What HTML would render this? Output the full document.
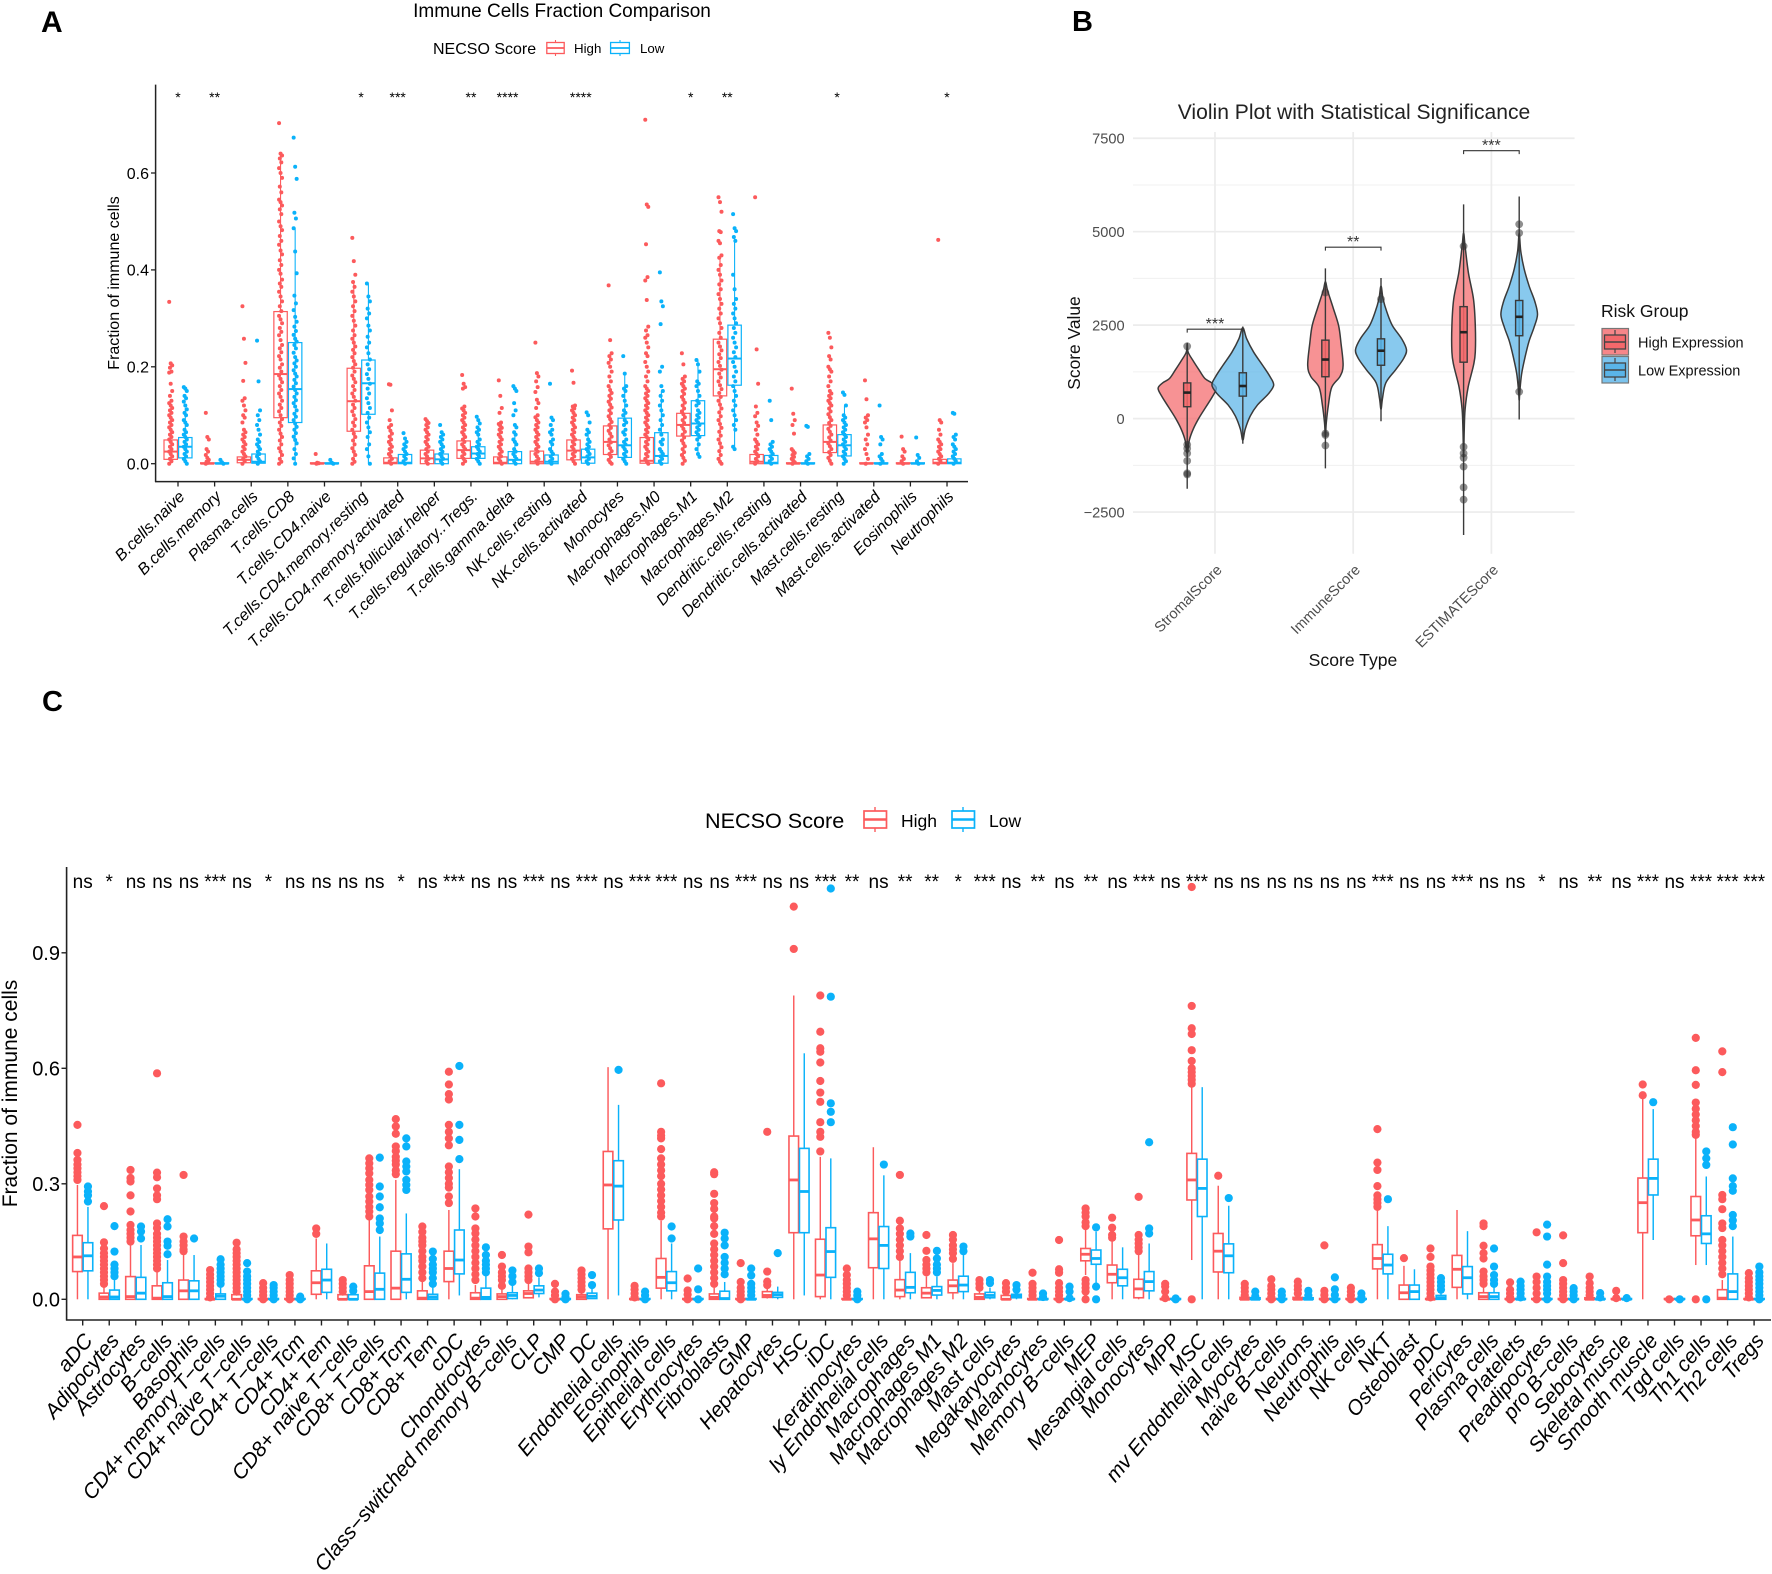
<!DOCTYPE html>
<html lang="en">
<head>
<meta charset="utf-8">
<title>Immune cell fraction comparison figure</title>
<style>
html,body{margin:0;padding:0;background:#fff}
svg{display:block}
text{font-family:"Liberation Sans",Arial,sans-serif}
</style>
</head>
<body>
<svg id="fig" xmlns="http://www.w3.org/2000/svg" width="1772" height="1574" viewBox="0 0 1772 1574">
<rect x="0" y="0" width="1772" height="1574" fill="#fff"/>

<text x="41" y="32" font-size="30" font-weight="bold">A</text>
<text x="1072" y="31" font-size="29" font-weight="bold">B</text>
<text x="42" y="711" font-size="29" font-weight="bold">C</text>

<g id="panelA">
  <text x="562" y="17" font-size="19" text-anchor="middle">Immune Cells Fraction Comparison</text>
  <text x="433" y="54" font-size="16">NECSO Score</text>
  <g>
    <line x1="555.5" y1="40" x2="555.5" y2="56" stroke="#FC5A5C" stroke-width="1.1"/>
    <rect x="546.8" y="42.5" width="17.4" height="11" fill="#fff" stroke="#FC5A5C" stroke-width="1.3"/>
    <line x1="546.8" y1="48" x2="564.2" y2="48" stroke="#FC5A5C" stroke-width="1.8"/>
    <text x="574" y="53" font-size="13.3">High</text>
  </g>
  <g>
    <line x1="620" y1="40" x2="620" y2="56" stroke="#0AB2FA" stroke-width="1.1"/>
    <rect x="610.6" y="42.5" width="18.8" height="11" fill="#fff" stroke="#0AB2FA" stroke-width="1.3"/>
    <line x1="610.6" y1="48" x2="629.4" y2="48" stroke="#0AB2FA" stroke-width="1.8"/>
    <text x="640" y="53" font-size="13.3">Low</text>
  </g>
  <text transform="translate(119,283) rotate(-90)" font-size="16" text-anchor="middle">Fraction of immune cells</text>
  <line x1="155.6" y1="84.6" x2="155.6" y2="482" stroke="#222" stroke-width="1.5"/>
  <line x1="155" y1="481.6" x2="968" y2="481.6" stroke="#222" stroke-width="1.5"/>
</g>

<g id="panelB">
  <text x="1354" y="119" font-size="21.1" fill="#222" text-anchor="middle">Violin Plot with Statistical Significance</text>
  <text transform="translate(1080,343) rotate(-90)" font-size="17.4" text-anchor="middle" fill="#111">Score Value</text>
  <text x="1353" y="666" font-size="17.6" text-anchor="middle" fill="#111">Score Type</text>
  <text x="1601" y="317" font-size="17.5" fill="#111">Risk Group</text>
  <g>
    <rect x="1602" y="328.5" width="26.5" height="26.5" fill="#F4686B" fill-opacity=".8" stroke="#777" stroke-width="1.2"/>
    <line x1="1615" y1="330" x2="1615" y2="353" stroke="#444" stroke-width="1.2"/>
    <rect x="1604.5" y="335" width="21" height="14" fill="#F4686B" stroke="#444" stroke-width="1.3"/>
    <line x1="1604.5" y1="342" x2="1625.5" y2="342" stroke="#444" stroke-width="1.5"/>
    <text x="1638" y="347.5" font-size="14.5" fill="#111">High Expression</text>
  </g>
  <g>
    <rect x="1602" y="356.5" width="26.5" height="26.5" fill="#5AB4E8" fill-opacity=".8" stroke="#777" stroke-width="1.2"/>
    <line x1="1615" y1="358" x2="1615" y2="381" stroke="#444" stroke-width="1.2"/>
    <rect x="1604.5" y="363" width="21" height="14" fill="#5AB4E8" stroke="#444" stroke-width="1.3"/>
    <line x1="1604.5" y1="370" x2="1625.5" y2="370" stroke="#444" stroke-width="1.5"/>
    <text x="1638" y="375.5" font-size="14.5" fill="#111">Low Expression</text>
  </g>
</g>

<g id="panelC">
  <text x="705" y="828" font-size="21.6">NECSO Score</text>
  <g>
    <line x1="875" y1="807" x2="875" y2="832" stroke="#FC5A5C" stroke-width="1.4"/>
    <rect x="864" y="811" width="22.5" height="17" fill="#fff" stroke="#FC5A5C" stroke-width="1.7"/>
    <line x1="864" y1="819.5" x2="886.5" y2="819.5" stroke="#FC5A5C" stroke-width="2.6"/>
    <text x="901" y="827" font-size="17.5">High</text>
  </g>
  <g>
    <line x1="963" y1="807" x2="963" y2="832" stroke="#0AB2FA" stroke-width="1.4"/>
    <rect x="952" y="811" width="22.5" height="17" fill="#fff" stroke="#0AB2FA" stroke-width="1.7"/>
    <line x1="952" y1="819.5" x2="974.5" y2="819.5" stroke="#0AB2FA" stroke-width="2.6"/>
    <text x="989" y="827" font-size="17.5">Low</text>
  </g>
  <text transform="translate(17,1093.5) rotate(-90)" font-size="21" text-anchor="middle">Fraction of immune cells</text>
  <line x1="66.6" y1="867" x2="66.6" y2="1320.5" stroke="#222" stroke-width="1.6"/>
  <line x1="66" y1="1320" x2="1771" y2="1320" stroke="#222" stroke-width="1.6"/>
</g>
</svg>

<script>
/* ---------- Panel A data ---------- */
const aCategories = ["B.cells.naive","B.cells.memory","Plasma.cells","T.cells.CD8","T.cells.CD4.naive","T.cells.CD4.memory.resting","T.cells.CD4.memory.activated","T.cells.follicular.helper","T.cells.regulatory..Tregs.","T.cells.gamma.delta","NK.cells.resting","NK.cells.activated","Monocytes","Macrophages.M0","Macrophages.M1","Macrophages.M2","Dendritic.cells.resting","Dendritic.cells.activated","Mast.cells.resting","Mast.cells.activated","Eosinophils","Neutrophils"];
const aSignificance = ["*","**","","","","*","***","","**","****","","****","","","*","**","","","*","","","*"];
const aYTicks = [0,0.2,0.4,0.6];
const aYTickLabels = ["0.0","0.2","0.4","0.6"];
/* each row: whisker low, q1, median, q3, whisker high */
const aHighBox = [[0,.009,.025,.049,.105],[0,0,0,.002,.004],[0,.002,.008,.014,.03],[0,.095,.185,.314,.64],[0,0,0,.002,.003],[0,.067,.129,.197,.375],[0,0,.002,.012,.03],[0,0,.011,.028,.07],[0,.011,.028,.047,.1],[0,0,.002,.014,.035],[0,0,.004,.026,.065],[0,.008,.027,.049,.11],[0,.019,.045,.078,.16],[0,.001,.006,.054,.13],[0,.057,.08,.104,.175],[0,.14,.195,.257,.43],[0,0,.004,.019,.045],[0,0,0,.002,.003],[0,.023,.045,.08,.15],[0,0,0,.002,.004],[0,0,0,.002,.004],[0,0,.002,.009,.02]];
const aLowBox = [[0,.012,.035,.054,.115],[0,0,0,.002,.003],[0,.001,.004,.02,.045],[0,.085,.154,.25,.486],[0,0,0,.002,.003],[0,.102,.166,.214,.372],[0,0,.002,.019,.045],[0,0,.009,.02,.045],[0,.011,.021,.035,.07],[0,0,.008,.025,.06],[0,0,.004,.018,.04],[0,.001,.013,.03,.07],[0,.013,.038,.094,.186],[0,.001,.016,.064,.15],[.014,.058,.083,.13,.214],[.03,.162,.217,.286,.47],[0,0,.002,.017,.04],[0,0,0,.002,.003],[0,.016,.038,.06,.12],[0,0,0,.002,.003],[0,0,0,.002,.003],[0,0,.002,.01,.02]];
const aHighPoints = [
[.334,.207,.203,.198,.19,.188,.165,.15,.14,.13,.125,.12,.115,.11,.105,.1,.095,.09,.085,.08,.075,.07,.065,.06,.055,.05,.045,.04,.035,.03,.025,.02,.015,.01,.005,0],
[.105,.055,.05,.03,.025,.018,.012,.008,.004,.002,0],
[.325,.258,.208,.171,.135,.13,.12,.11,.1,.095,.085,.07,.065,.06,.055,.05,.045,.04,.035,.03,.025,.02,.015,.01,.005,0],
[.703,.64,.636,.63,.622,.61,.6,.59,.572,.56,.545,.54,.533,.525,.515,.5,.49,.482,.47,.46,.452,.44,.432,.42,.41,.4,.392,.38,.372,.365,.355,.345,.335,.325,.315,.305,.298,.29,.28,.272,.265,.255,.245,.238,.23,.222,.215,.205,.198,.19,.182,.175,.168,.16,.152,.145,.138,.13,.122,.115,.108,.1,.092,.085,.078,.07,.062,.055,.048,.04,.032,.025,.018,.01,.004,0],
[.02,.002,.001,0],
[.466,.418,.39,.375,.365,.355,.345,.335,.325,.315,.305,.295,.285,.275,.265,.258,.25,.242,.235,.228,.22,.212,.205,.198,.19,.182,.175,.168,.16,.152,.145,.138,.13,.122,.115,.108,.1,.092,.085,.078,.07,.062,.055,.048,.04,.032,.025,.018,.01,.004,0],
[.164,.163,.11,.09,.08,.075,.068,.062,.056,.05,.045,.04,.035,.03,.025,.02,.015,.01,.005,0],
[.092,.088,.084,.08,.075,.07,.065,.06,.055,.05,.045,.04,.035,.03,.025,.02,.015,.01,.005,0],
[.183,.165,.158,.155,.118,.114,.11,.105,.1,.095,.09,.085,.08,.075,.07,.065,.06,.055,.05,.045,.04,.035,.03,.025,.02,.015,.01,.005,0],
[.172,.14,.115,.105,.085,.082,.078,.074,.07,.065,.06,.055,.05,.045,.04,.035,.03,.025,.02,.015,.01,.005,0],
[.25,.187,.18,.17,.158,.148,.132,.125,.115,.1,.096,.09,.085,.08,.075,.07,.065,.06,.055,.05,.045,.04,.035,.03,.025,.02,.015,.01,.005,0],
[.192,.167,.12,.118,.114,.11,.105,.1,.095,.09,.085,.08,.075,.07,.065,.06,.055,.05,.045,.04,.035,.03,.025,.02,.015,.01,.005,0],
[.368,.255,.228,.222,.215,.208,.2,.19,.18,.17,.16,.152,.146,.14,.134,.128,.122,.116,.11,.104,.098,.092,.086,.08,.074,.068,.062,.056,.05,.044,.038,.032,.026,.02,.014,.008,.003,0],
[.71,.535,.53,.453,.385,.378,.338,.283,.275,.265,.26,.25,.24,.228,.222,.21,.2,.19,.18,.17,.16,.155,.15,.145,.14,.135,.13,.125,.12,.115,.11,.105,.1,.095,.09,.085,.08,.075,.07,.065,.06,.055,.05,.045,.04,.035,.03,.025,.02,.015,.01,.005,0],
[.228,.205,.18,.175,.17,.165,.16,.155,.15,.144,.138,.132,.126,.12,.114,.108,.102,.096,.09,.084,.078,.072,.066,.06,.054,.048,.042,.036,.03,.024,.018,.012,.006,0],
[.55,.54,.52,.48,.478,.46,.455,.43,.425,.41,.4,.39,.378,.37,.36,.35,.34,.33,.32,.31,.3,.29,.28,.27,.26,.25,.242,.234,.226,.218,.21,.202,.194,.186,.178,.17,.162,.154,.146,.138,.13,.122,.114,.106,.098,.09,.082,.074,.066,.058,.05,.042,.034,.026,.018,.01,.004,0],
[.55,.236,.165,.118,.105,.098,.085,.078,.07,.06,.05,.045,.04,.035,.03,.025,.02,.015,.01,.005,0],
[.155,.103,.09,.08,.062,.03,.026,.022,.018,.014,.01,.006,.003,0],
[.27,.26,.24,.222,.215,.2,.195,.19,.18,.17,.16,.15,.145,.14,.135,.13,.125,.12,.114,.108,.102,.096,.09,.084,.078,.072,.066,.06,.054,.048,.042,.036,.03,.024,.018,.012,.006,0],
[.172,.133,.1,.095,.09,.085,.075,.06,.05,.04,.03,.02,.01,0],
[.056,.03,.025,.015,.01,.005,0],
[.462,.09,.085,.07,.06,.05,.045,.04,.035,.03,.025,.02,.015,.01,.005,0]
];
const aLowPoints = [
[.158,.155,.15,.14,.135,.128,.12,.112,.105,.1,.09,.085,.08,.07,.065,.06,.055,.05,.045,.04,.035,.03,.025,.02,.015,.01,.005,0],
[.008,.003,0],
[.254,.17,.11,.1,.09,.08,.07,.06,.05,.045,.04,.035,.03,.025,.02,.015,.01,.005,0],
[.673,.613,.588,.518,.506,.486,.438,.393,.347,.331,.317,.303,.293,.283,.274,.266,.258,.252,.245,.238,.229,.22,.213,.207,.2,.193,.186,.18,.173,.166,.159,.152,.145,.138,.131,.125,.118,.11,.103,.097,.09,.083,.076,.07,.063,.056,.049,.042,.03,.02,.011,0],
[.008,.002,0],
[.372,.345,.335,.32,.31,.3,.285,.275,.262,.25,.24,.228,.215,.205,.195,.185,.175,.165,.155,.145,.135,.125,.115,.105,.095,.085,.075,.065,.055,.04,.03,.015,0],
[.063,.052,.045,.04,.035,.03,.025,.02,.015,.01,.005,0],
[.08,.065,.06,.055,.05,.045,.04,.035,.03,.025,.02,.015,.01,.005,0],
[.097,.09,.083,.075,.07,.065,.06,.05,.045,.04,.035,.03,.025,.02,.015,.01,.005,0],
[.16,.155,.15,.125,.11,.1,.08,.075,.065,.06,.05,.045,.04,.03,.025,.02,.015,.01,.005,0],
[.165,.095,.09,.08,.07,.065,.06,.05,.045,.04,.03,.025,.02,.015,.01,.005,0],
[.106,.1,.085,.07,.065,.06,.05,.045,.04,.035,.03,.025,.02,.015,.01,.005,0],
[.222,.186,.16,.155,.15,.14,.13,.12,.11,.105,.1,.09,.085,.08,.07,.065,.06,.05,.045,.04,.035,.03,.025,.02,.015,.01,.005,0],
[.395,.335,.325,.288,.2,.19,.16,.15,.14,.13,.12,.11,.1,.09,.08,.07,.06,.05,.045,.04,.03,.025,.02,.015,.01,.005,0],
[.214,.205,.19,.17,.165,.16,.15,.14,.13,.125,.12,.11,.105,.1,.095,.09,.085,.08,.075,.07,.065,.06,.055,.05,.04,.03,.02,.014],
[.515,.486,.48,.468,.46,.39,.36,.34,.33,.32,.31,.3,.29,.28,.27,.26,.25,.24,.23,.22,.21,.2,.19,.18,.17,.16,.15,.14,.13,.12,.11,.1,.09,.08,.07,.035,.03],
[.13,.09,.045,.04,.035,.03,.025,.02,.015,.01,.005,0],
[.078,.076,.02,.015,.01,.005,0],
[.147,.142,.12,.1,.095,.09,.085,.08,.075,.07,.065,.06,.055,.05,.045,.04,.035,.03,.025,.02,.015,.01,.005,0],
[.12,.055,.05,.04,.02,.015,.01,.005,0],
[.054,.018,.012,.005,0],
[.105,.103,.06,.055,.05,.04,.035,.03,.025,.02,.015,.01,.005,0]
];

/* ---------- Panel B data ---------- */
const bCategories = ["StromalScore","ImmuneScore","ESTIMATEScore"];
const bSignificance = ["***","**","***"];
const bBracketLevels = [2393,4586,7168];
const bYTicks = [7500,5000,2500,0,-2500];
const bYTickLabels = ["7500","5000","2500","0","\u22122500"];
const bMinorTicks = [6250,3750,1250,-1250];
const bHighLevels = [
[2016,1780,1545,1309,1073,955,813,601,306,12,-283,-578,-930],
[3667,3431,2959,2488,2016,1427,1132,837,365,-106,-460],
[4964,4610,3902,3195,2488,1780,1427,837,248,-342,-1049]];
const bHighDensity = [
[0,.03,.2,.39,.59,.82,.97,.85,.62,.39,.2,.07,0],
[0,.07,.26,.44,.52,.59,.49,.21,.1,.03,0],
[0,.05,.16,.33,.39,.39,.33,.15,.05,.02,0]];
const bLowLevels = [
[2430,2134,1780,1427,1132,896,660,365,71,-283,-578],
[3549,3195,2841,2488,2134,1839,1603,1309,955,542,248],
[4964,4492,4020,3549,3136,2782,2429,2075,1662,1191,719,483]];
const bLowDensity = [
[0,.13,.36,.66,.9,1.03,.85,.49,.25,.08,0],
[0,.07,.2,.38,.69,.85,.75,.49,.16,.05,0],
[0,.05,.16,.33,.52,.61,.49,.33,.2,.08,.02,0]];
const bHighBox = [[-1875,318,696,955,2016],[-1332,1120,1580,2099,4020],[-3113,1509,2311,2995,5730]];
const bLowBox = [[-672,601,872,1226,2464],[-71,1427,1816,2134,3761],[-24,2217,2723,3160,5942]];
const bHighOutliers = [[1934,-696,-800,-930,-1132,-1462,-1495],[3372,-400,-440,-719],[4610,-755,-931,-1049,-1285,-1839,-2169]];
const bLowOutliers = [[],[3195],[5199,4964,719]];

/* ---------- Panel C data ---------- */
const cCategories = ["aDC","Adipocytes","Astrocytes","B\u2212cells","Basophils","CD4+ memory T\u2212cells","CD4+ naive T\u2212cells","CD4+ T\u2212cells","CD4+ Tcm","CD4+ Tem","CD8+ naive T\u2212cells","CD8+ T\u2212cells","CD8+ Tcm","CD8+ Tem","cDC","Chondrocytes","Class\u2212switched memory B\u2212cells","CLP","CMP","DC","Endothelial cells","Eosinophils","Epithelial cells","Erythrocytes","Fibroblasts","GMP","Hepatocytes","HSC","iDC","Keratinocytes","ly Endothelial cells","Macrophages","Macrophages M1","Macrophages M2","Mast cells","Megakaryocytes","Melanocytes","Memory B\u2212cells","MEP","Mesangial cells","Monocytes","MPP","MSC","mv Endothelial cells","Myocytes","naive B\u2212cells","Neurons","Neutrophils","NK cells","NKT","Osteoblast","pDC","Pericytes","Plasma cells","Platelets","Preadipocytes","pro B\u2212cells","Sebocytes","Skeletal muscle","Smooth muscle","Tgd cells","Th1 cells","Th2 cells","Tregs"];
const cSignificance = ["ns","*","ns","ns","ns","***","ns","*","ns","ns","ns","ns","*","ns","***","ns","ns","***","ns","***","ns","***","***","ns","ns","***","ns","ns","***","**","ns","**","**","*","***","ns","**","ns","**","ns","***","ns","***","ns","ns","ns","ns","ns","ns","***","ns","ns","***","ns","ns","*","ns","**","ns","***","ns","***","***","***"];
const cYTicks = [0,0.3,0.6,0.9];
const cYTickLabels = ["0.0","0.3","0.6","0.9"];
const F = [0,0,0,.002,.004];
const cHighBox = [[0,.072,.11,.166,.297],[0,0,.006,.016,.04],[0,0,.007,.059,.145],[0,0,.003,.035,.076],[0,0,.022,.05,.115],F,[0,0,0,.012,.02],F,F,[0,.013,.043,.074,.158],[0,0,0,.012,.02],[0,0,.02,.087,.21],[0,0,.029,.125,.31],[0,0,.003,.022,.05],[0,.046,.08,.125,.232],[0,0,.003,.017,.037],[0,0,.007,.014,.03],[.002,.004,.015,.022,.05],F,[0,0,.006,.012,.025],[0,.183,.297,.384,.603],F,[0,.029,.057,.106,.204],F,[0,0,.005,.014,.03],F,[.002,.005,.01,.02,.03],[0,.173,.31,.424,.789],[0,.007,.063,.156,.37],F,[0,.082,.157,.225,.395],[0,.007,.024,.051,.102],[.003,.004,.016,.03,.059],[0,.017,.035,.05,.094],[0,0,.005,.014,.03],[0,0,0,.01,.02],F,F,[.063,.1,.117,.132,.18],[0,.043,.065,.089,.154],[0,.004,.027,.052,.115],F,[.102,.258,.31,.379,.557],[0,.071,.125,.171,.295],[0,0,0,.005,.01],F,[0,0,0,.005,.01],F,F,[0,.079,.106,.142,.232],[0,0,.017,.037,.087],F,[0,.031,.078,.114,.232],[0,0,.007,.017,.035],F,F,F,[0,0,0,.004,.008],F,[0,.173,.251,.315,.522],F,[.089,.165,.206,.267,.418],[0,0,.003,.025,.05],F];
const cLowBox = [[0,.074,.113,.147,.24],[0,0,.006,.024,.05],[0,0,.016,.057,.141],[0,0,.007,.043,.102],[0,0,.022,.048,.115],[0,0,.008,.014,.03],F,F,F,[0,.018,.05,.078,.145],[0,0,0,.012,.02],[0,0,.026,.068,.163],[0,.018,.052,.118,.223],[0,0,.006,.013,.03],[.01,.066,.102,.18,.338],[0,0,.005,.029,.068],[0,.002,.01,.017,.037],[.005,.015,.024,.035,.057],F,[.002,.002,.008,.016,.03],[.01,.206,.294,.36,.505],F,[0,.022,.043,.072,.145],F,[0,0,.002,.021,.045],F,[0,.005,.012,.018,.033],[.01,.173,.28,.392,.639],[0,.057,.124,.186,.366],F,[0,.08,.14,.189,.322],[0,.017,.031,.07,.12],[0,.011,.023,.033,.059],[0,.02,.037,.06,.115],[0,.004,.01,.018,.03],[0,.004,.008,.013,.02],F,F,[.042,.091,.106,.128,.176],[0,.035,.056,.078,.135],[0,.022,.046,.072,.145],F,[0,.215,.288,.364,.551],[0,.069,.113,.144,.243],[0,0,0,.004,.007],F,[0,0,0,.004,.007],F,F,[0,.066,.089,.117,.19],[0,0,.02,.037,.078],[0,0,.004,.01,.018],[0,.014,.056,.085,.177],[0,0,.007,.017,.035],F,F,F,F,F,[.154,.271,.314,.364,.494],F,[.089,.145,.17,.217,.319],[0,0,.02,.066,.163],F];
const cHighOutliers = [
[.453,.38,.362,.35,.34,.33,.32,.31],
[.242,.148,.132,.12,.11,.1,.09,.08,.07,.06,.05,.04],
[.336,.315,.306,.27,.228,.193,.18,.17,.16,.15],
[.587,.329,.317,.288,.27,.26,.197,.185,.17,.16,.15,.14,.13,.12,.11,.1,.09,.08],
[.323,.163,.15,.14,.13,.125],
[.076,.065,.055,.045,.035,.025,.015,.005],
[.147,.13,.12,.11,.1,.09,.08,.07,.06,.05,.04,.03,.02],
[.042,.03,.02,.01,0],
[.063,.05,.04,.03,.02,.01,0],
[.184,.17],
[.05,.04,.03,.02],
[.366,.353,.34,.327,.31,.297,.284,.267,.254,.24,.228,.215],
[.468,.449,.43,.397,.385,.37,.36,.35,.335,.325],
[.189,.175,.16,.15,.14,.125,.11,.1,.085,.07,.055],
[.591,.558,.533,.519,.453,.435,.418,.4,.345,.33,.315,.3,.29,.267,.25],
[.236,.215,.184,.171,.155,.14,.125,.11,.095,.08,.065,.05],
[.115,.085,.07,.06,.05,.035],
[.22,.137,.122,.08,.07,.06,.05],
[.04,.02,.01,0],
[.075,.065,.055,.045,.035,.025],
[],
[.035,.025,.015,.005],
[.561,.435,.425,.418,.39,.366,.35,.335,.32,.3,.285,.27,.255,.24,.225,.215],
[.054,.023,.012,0],
[.33,.325,.274,.25,.235,.215,.21,.19,.17,.145,.13,.115,.1,.085,.07,.055,.04],
[.094,.045,.03,.02,.01,0],
[.435,.072,.046,.037],
[1.02,.91],
[.789,.695,.652,.643,.615,.567,.537,.513,.46,.435,.422,.384],
[.08,.063,.05,.04,.03,.02,.01],
[],
[.323,.204,.184,.17,.155,.14,.125,.11],
[.167,.126,.102,.09,.08,.07],
[.167,.155,.14,.13,.12,.105],
[.05,.04,.03],
[.042,.03,.02],
[.069,.04,.03,.02,.01],
[.154,.078,.069,.042,.03,.02,.01,0],
[.236,.225,.215,.2,.19,.05,.04,.03,.02,0],
[.212,.186,.167,.16],
[.266,.167,.155,.145,.135,.125],
[.04,.033,.02,.003],
[1.071,.762,.704,.689,.647,.619,.6,.59,.58,.57,.56,0],
[.321],
[.04,.03,.02,.01],
[.052,.035,.025,.015,.005,0],
[.046,.035,.025,.015],
[.14,.022,.011,0],
[.03,.02,.01,0],
[.442,.355,.336,.294,.27,.26,.25,.24],
[.107],
[.132,.11,.085,.075,.065,.055,.045,.035,.025,.015,.005],
[],
[.197,.19,.139,.12,.106,.072,.06,.05,.04],
[.044,.025,.015,.005,0],
[.174,.059,.045,.03,.015,0],
[.166,.094,.05,.04,.03,.02,.01,0],
[.059,.042,.03,.02,.01],
[.022,.003],
[.558,.53],
[0],
[.679,.595,.557,.511,.495,.48,.465,.45,.435,.427,0],
[.644,.59,.271,.26,.234,.197,.185,.154,.14,.125,.11,.095,.08,.065],
[.068,.055,.045,.035,.025,.015,.005]
];
const cLowOutliers = [
[.293,.28,.27,.254],
[.19,.124,.09,.08,.07,.06],
[.189,.176,.158],
[.208,.189,.15,.139,.117],
[.158],
[.104,.09,.08,.07,.06,.05,.04],
[.094,.072,.06,.05,.04,.03,.02,.01,0],
[.037,.03,.02,.01,0],
[.007,0],
[],
[.033,.022],
[.368,.293,.267,.239,.21,.197,.18],
[.418,.397,.358,.345,.332,.31,.297,.284],
[.124,.105,.09,.08,.07,.055,.04],
[.606,.453,.414,.364],
[.135,.115,.1,.09,.08,.07],
[.075,.06,.045],
[.08,.068],
[.014,.005,0],
[.063,.037],
[.596],
[.02,.01,0],
[.189,.158],
[.08,.026,0],
[.173,.158,.14,.11,.095,.08,.065],
[.08,.062,.04,.03,.02,.01],
[.12],
[],
[1.067,.786,.509,.487,.46],
[.02,.01,0],
[.35],
[.171,.163],
[.126,.106,.09,.08,.07],
[.137,.125],
[.05,.042],
[.037,.025],
[.015,.006],
[.033,.02,.003],
[.187,.033,0],
[],
[.408,.184,.171],
[.002,0],
[],
[.263],
[.02,.008],
[.02,.01,0],
[.022,.01],
[.057,.026,.011,0],
[.015,.005,0],
[.26],
[],
[.055,.045,.035,.025],
[],
[.132,.085,.063,.05,.04],
[.046,.035,.025,.015,.005],
[.194,.163,.09,.059,.045,.035,.025,.015,0],
[.029,.02,.01,0],
[.016,.005],
[.003],
[.512],
[0],
[.384,.366,.349,0],
[.447,.402,.314,.294,.282,.219,.205,.19],
[.085,.07,.06,.05,.04,.03,.02,.01,0]
];

/* ---------- Axis functions ---------- */
const RED = '#FC5A5C', BLUE = '#0AB2FA';
const aX = i => 178 + 36.62 * i;
const aY = v => 463.7 - 484.5 * v;
const bX = i => 1215 + 138.2 * i;
const bY = v => 418.6 - 93.45 * v / 2500;
const cX = i => 82.7 + 26.53 * i;
const cY = v => 1299.3 - 385 * v;

const NS = 'http://www.w3.org/2000/svg';
function make(parent, tag, attrs, txt) {
  const el = document.createElementNS(NS, tag);
  for (const k in attrs) el.setAttribute(k, attrs[k]);
  if (txt !== undefined) el.textContent = txt;
  parent.appendChild(el);
  return el;
}
function slug(s) { return s.toLowerCase().replace(/[^a-z0-9]+/g, '-').replace(/^-|-$/g, ''); }

/* Box-and-whisker drawn from one stats row */
function drawBox(parent, prefix, x, w, row, yFn, color, sw, medW, fill) {
  const g = make(parent, 'g', {});
  
  
  make(g, 'line', {x1: x, x2: x, y1: yFn(row[4]), y2: yFn(row[3]), stroke: color, 'stroke-width': sw * 0.9});
  make(g, 'line', {x1: x, x2: x, y1: yFn(row[1]), y2: yFn(row[0]), stroke: color, 'stroke-width': sw * 0.9});
  make(g, 'rect', {x: x - w / 2, y: yFn(row[3]), width: w, height: Math.max(0.3, yFn(row[1]) - yFn(row[3])), fill: fill, stroke: color, 'stroke-width': sw});
  make(g, 'line', {x1: x - w / 2, x2: x + w / 2, y1: yFn(row[2]), y2: yFn(row[2]), stroke: color, 'stroke-width': medW});
}

/* ---------- Panel A ---------- */
const panelA = document.getElementById('panelA');
aYTicks.forEach((v, i) => {
  const tick = make(panelA, 'line', {x1: 151, x2: 155.6, y1: aY(v), y2: aY(v), stroke: '#222', 'stroke-width': 1.3});
  
  
  const lab = make(panelA, 'text', {x: 149, y: aY(v) + 5.8, 'font-size': 16, 'text-anchor': 'end'}, aYTickLabels[i]);
  
  
});
aCategories.forEach((name, i) => {
  const x = aX(i);
  const tick = make(panelA, 'line', {x1: x, x2: x, y1: 481.6, y2: 486.5, stroke: '#222', 'stroke-width': 1.3});
  
  
  const lab = make(panelA, 'text', {transform: 'translate(' + (x - 1) + ',489) rotate(-45)', dy: '0.75em', 'font-size': 16.2, 'font-style': 'italic', 'text-anchor': 'end'}, name);
  
  
  drawBox(panelA, 'panel-a-high-' + slug(name), x - 7.3, 13.4, aHighBox[i], aY, RED, 1.2, 2, 'none');
  drawBox(panelA, 'panel-a-low-' + slug(name), x + 7.3, 13.4, aLowBox[i], aY, BLUE, 1.2, 2, 'none');
  [[aHighPoints[i], RED, -7.3, 'high'], [aLowPoints[i], BLUE, 7.3, 'low']].forEach(set => {
    set[0].forEach((v, k) => {
      const off = ((k * 7) % 5 - 2) * 0.75;
      const dot = make(panelA, 'circle', {cx: x + set[2] + off, cy: aY(v), r: 2, fill: set[1]});
      
      
    });
  });
  if (aSignificance[i]) {
    const s = make(panelA, 'text', {x: x, y: 102, 'font-size': 14, 'text-anchor': 'middle'}, aSignificance[i]);
    
    
  }
});

/* ---------- Panel B ---------- */
const panelB = document.getElementById('panelB');
const bFirst = panelB.firstChild;
const bGrid = document.createElementNS(NS, 'g');


panelB.insertBefore(bGrid, bFirst);
bMinorTicks.forEach(v => {
  make(bGrid, 'line', {x1: 1133, x2: 1574.6, y1: bY(v), y2: bY(v), stroke: '#f0f0f0', 'stroke-width': 1});
});
bYTicks.forEach(v => {
  make(bGrid, 'line', {x1: 1133, x2: 1574.6, y1: bY(v), y2: bY(v), stroke: '#ececec', 'stroke-width': 1.7});
});
bCategories.forEach((c, i) => {
  make(bGrid, 'line', {x1: bX(i), x2: bX(i), y1: 132, y2: 553.7, stroke: '#ececec', 'stroke-width': 1.7});
});
bYTicks.forEach((v, i) => {
  const lab = make(panelB, 'text', {x: 1124.6, y: bY(v) + 5.3, 'font-size': 14.6, fill: '#4d4d4d', 'text-anchor': 'end'}, bYTickLabels[i]);
  
  
});
function violinPath(cx, levels, dens) {
  const pts = [];
  for (let k = levels.length - 1; k >= 0; k--) pts.push([cx + dens[k] * 30, bY(levels[k])]);
  for (let k = 1; k < levels.length - 1; k++) pts.push([cx - dens[k] * 30, bY(levels[k])]);
  const n = pts.length;
  let d = 'M' + pts[0][0] + ' ' + pts[0][1];
  for (let k = 0; k < n; k++) {
    const p0 = pts[(k - 1 + n) % n], p1 = pts[k], p2 = pts[(k + 1) % n], p3 = pts[(k + 2) % n];
    d += 'C' + (p1[0] + (p2[0] - p0[0]) / 6) + ' ' + (p1[1] + (p2[1] - p0[1]) / 6) + ' ' +
         (p2[0] - (p3[0] - p1[0]) / 6) + ' ' + (p2[1] - (p3[1] - p1[1]) / 6) + ' ' + p2[0] + ' ' + p2[1];
  }
  return d + 'Z';
}
function drawViolin(cat, side, cx, levels, dens, box, outs, color) {
  const prefix = 'panel-b-' + slug(cat) + '-' + side;
  const v = make(panelB, 'path', {d: violinPath(cx, levels, dens), fill: color, 'fill-opacity': .72, stroke: '#3a3a3a', 'stroke-width': 1.5});
  
  
  const wl = make(panelB, 'line', {x1: cx, x2: cx, y1: bY(box[0]), y2: bY(box[4]), stroke: '#3a3a3a', 'stroke-width': 1.4});
  
  
  const r = make(panelB, 'rect', {x: cx - 3.6, y: bY(box[3]), width: 7.2, height: bY(box[1]) - bY(box[3]), fill: color, 'fill-opacity': .85, stroke: '#3a3a3a', 'stroke-width': 1.4});
  
  
  const m = make(panelB, 'line', {x1: cx - 3.6, x2: cx + 3.6, y1: bY(box[2]), y2: bY(box[2]), stroke: '#222', 'stroke-width': 2.6});
  
  
  outs.forEach(val => {
    const o = make(panelB, 'circle', {cx: cx, cy: bY(val), r: 3.9, fill: '#333', 'fill-opacity': .55});
    
    
  });
}
bCategories.forEach((c, i) => {
  const x = bX(i);
  const xh = x - 27.8, xl = x + 27.8;
  drawViolin(c, 'high', xh, bHighLevels[i], bHighDensity[i], bHighBox[i], bHighOutliers[i], '#F4686B');
  drawViolin(c, 'low', xl, bLowLevels[i], bLowDensity[i], bLowBox[i], bLowOutliers[i], '#5AB4E8');
  const lab = make(panelB, 'text', {transform: 'translate(' + x + ',563) rotate(-45)', dy: '0.75em', 'font-size': 14.6, fill: '#4d4d4d', 'text-anchor': 'end'}, c);
  
  
  const by = bY(bBracketLevels[i]);
  const br = make(panelB, 'path', {d: 'M' + xh + ' ' + (by + 3.5) + 'V' + by + 'H' + xl + 'V' + (by + 3.5), fill: 'none', stroke: '#333', 'stroke-width': 1.1});
  
  
  const st = make(panelB, 'text', {x: x, y: by, 'font-size': 16, 'text-anchor': 'middle', fill: '#333'}, bSignificance[i]);
  
  
});

/* ---------- Panel C ---------- */
const panelC = document.getElementById('panelC');
cYTicks.forEach((v, i) => {
  const tick = make(panelC, 'line', {x1: 61.5, x2: 66.6, y1: cY(v), y2: cY(v), stroke: '#222', 'stroke-width': 1.4});
  
  
  const lab = make(panelC, 'text', {x: 60, y: cY(v) + 7, 'font-size': 20, 'text-anchor': 'end'}, cYTickLabels[i]);
  
  
});
cCategories.forEach((name, i) => {
  const x = cX(i);
  const tick = make(panelC, 'line', {x1: x, x2: x, y1: 1320, y2: 1325.5, stroke: '#222', 'stroke-width': 1.4});
  
  
  const lab = make(panelC, 'text', {transform: 'translate(' + (x - 1) + ',1331) rotate(-50)', dy: '0.75em', 'font-size': 21, 'font-style': 'italic', 'text-anchor': 'end'}, name);
  
  
  const s = make(panelC, 'text', {x: x, y: 888, 'font-size': 19, 'text-anchor': 'middle'}, cSignificance[i]);
  
  
  drawBox(panelC, 'panel-c-high-' + slug(name), x - 5.25, 9.6, cHighBox[i], cY, RED, 1.6, 2.8, '#fff');
  drawBox(panelC, 'panel-c-low-' + slug(name), x + 5.25, 9.6, cLowBox[i], cY, BLUE, 1.6, 2.8, '#fff');
  [[cHighOutliers[i], RED, -5.25, 'high'], [cLowOutliers[i], BLUE, 5.25, 'low']].forEach(set => {
    set[0].forEach(v => {
      const dot = make(panelC, 'circle', {cx: x + set[2], cy: cY(v), r: 4.1, fill: set[1]});
      
      
    });
  });
});
</script>
</body>
</html>
